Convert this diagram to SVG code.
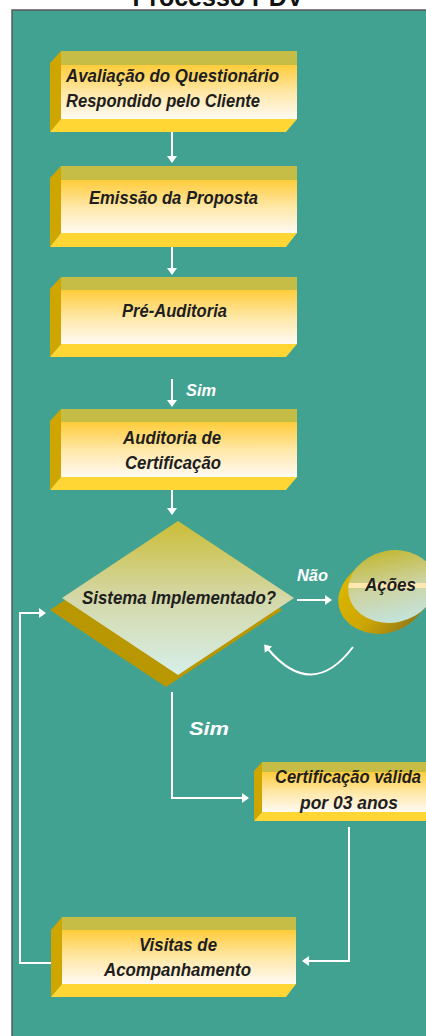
<svg xmlns="http://www.w3.org/2000/svg" width="426" height="1036" viewBox="0 0 426 1036">
<defs>
<style>
.tb{fill:#C5BD45}
.ls{fill:#CFA600}
.bb{fill:#FFD633}
.fc{fill:url(#face)}
.t{font-family:"Liberation Sans",Arial,sans-serif;font-weight:bold;font-style:italic;font-size:18px;fill:#1E1E1E}
.w{font-family:"Liberation Sans",Arial,sans-serif;font-weight:bold;font-style:italic;fill:#FFFFFF}
.c{fill:none;stroke:#FFFFFF;stroke-width:2}
.sd{fill:url(#cylside)}
</style>
<linearGradient id="face" x1="0" y1="0" x2="0" y2="1">
<stop offset="0" stop-color="#FFCC3A"/>
<stop offset="0.5" stop-color="#FFE7A6"/>
<stop offset="1" stop-color="#FFFAF3"/>
</linearGradient>
<linearGradient id="dia" x1="0" y1="0" x2="0" y2="1">
<stop offset="0" stop-color="#CBBD36"/>
<stop offset="0.5" stop-color="#D4D8A8"/>
<stop offset="1" stop-color="#D6EFEA"/>
</linearGradient>
<linearGradient id="cyl" gradientUnits="userSpaceOnUse" x1="0" y1="550" x2="0" y2="623">
<stop offset="0" stop-color="#C2B936"/>
<stop offset="0.5" stop-color="#CDD3A0"/>
<stop offset="1" stop-color="#C3E4DE"/>
</linearGradient>
<linearGradient id="cylside" gradientUnits="userSpaceOnUse" x1="340" y1="570" x2="400" y2="635">
<stop offset="0" stop-color="#DDB800"/>
<stop offset="0.55" stop-color="#CCA504"/>
<stop offset="1" stop-color="#957A18"/>
</linearGradient>
<ellipse id="cy" cx="392" cy="586.5" rx="44" ry="36" transform="rotate(-12 392 586.5)"/>
<clipPath id="cylclip"><use href="#cy"/></clipPath>
<marker id="ah" markerUnits="userSpaceOnUse" markerWidth="7" markerHeight="10" viewBox="0 0 7 10" refX="1" refY="5" orient="auto">
<path d="M0,0 L7,5 L0,10 z" fill="#FFFFFF"/>
</marker>
</defs>

<text x="218" y="6" text-anchor="middle" font-family="Liberation Sans, Arial, sans-serif" font-weight="bold" font-size="25" fill="#111">Processo PDV</text>
<rect x="12" y="10" width="420" height="1030" fill="#42A292" stroke="#5A5A5A" stroke-width="1.5"/>

<g id="connectors">
<path class="c" d="M172,132 V157" marker-end="url(#ah)"/>
<path class="c" d="M172,247 V269" marker-end="url(#ah)"/>
<path class="c" d="M172,379 V401" marker-end="url(#ah)"/>
<path class="c" d="M172,490 V509" marker-end="url(#ah)"/>
<path class="c" d="M172,692 V798 H243" marker-end="url(#ah)"/>
<path class="c" d="M297,600 H326" marker-end="url(#ah)"/>
<path class="c" d="M353,647 Q312,701 268,649" marker-end="url(#ah)"/>
<path class="c" d="M349,827 V961 H308" marker-end="url(#ah)"/>
<path class="c" d="M51,963 H20 V613 H40" marker-end="url(#ah)"/>
<text class="w" x="186" y="396" font-size="17" textLength="30" lengthAdjust="spacingAndGlyphs">Sim</text>
<text class="w" x="297" y="581" font-size="17" textLength="31" lengthAdjust="spacingAndGlyphs">Não</text>
<text class="w" x="189" y="735" font-size="19" textLength="40" lengthAdjust="spacingAndGlyphs">Sim</text>
</g>

<g id="avaliacao">
<rect class="tb" x="61" y="51" width="236" height="14"/>
<polygon class="ls" points="50,63 61,51 61,119 50,132"/>
<rect class="fc" x="61" y="65" width="236" height="54"/>
<polygon class="bb" points="61,119 297,119 286,132 50,132"/>
<text class="t" x="66" y="82" textLength="213" lengthAdjust="spacingAndGlyphs">Avaliação do Questionário</text>
<text class="t" x="66" y="107" textLength="194" lengthAdjust="spacingAndGlyphs">Respondido pelo Cliente</text>
</g>

<g id="emissao">
<rect class="tb" x="61" y="166" width="236" height="14"/>
<polygon class="ls" points="50,178 61,166 61,233 50,247"/>
<rect class="fc" x="61" y="180" width="236" height="53"/>
<polygon class="bb" points="61,233 297,233 286,247 50,247"/>
<text class="t" x="89" y="204" textLength="169" lengthAdjust="spacingAndGlyphs">Emissão da Proposta</text>
</g>

<g id="preauditoria">
<rect class="tb" x="61" y="277" width="236" height="13"/>
<polygon class="ls" points="50,289 61,277 61,344 50,357"/>
<rect class="fc" x="61" y="290" width="236" height="54"/>
<polygon class="bb" points="61,344 297,344 286,357 50,357"/>
<text class="t" x="122" y="317" textLength="105" lengthAdjust="spacingAndGlyphs">Pré-Auditoria</text>
</g>

<g id="auditoria">
<rect class="tb" x="61" y="409" width="236" height="13"/>
<polygon class="ls" points="50,421 61,409 61,477 50,490"/>
<rect class="fc" x="61" y="422" width="236" height="55"/>
<polygon class="bb" points="61,477 297,477 286,490 50,490"/>
<text class="t" x="123" y="444" textLength="98" lengthAdjust="spacingAndGlyphs">Auditoria de</text>
<text class="t" x="125" y="469" textLength="96" lengthAdjust="spacingAndGlyphs">Certificação</text>
</g>

<g id="sistema">
<polygon points="166,533 282,610 166,687 50,610" fill="#B99700"/>
<polygon points="178,521 294,598 178,675 62,598" fill="url(#dia)"/>
<text class="t" x="82" y="604" textLength="194" lengthAdjust="spacingAndGlyphs">Sistema Implementado?</text>
</g>

<g id="acoes">
<use href="#cy" class="sd" transform="translate(-10 11)"/>
<use href="#cy" class="sd" transform="translate(-8 8.8)"/>
<use href="#cy" class="sd" transform="translate(-6 6.6)"/>
<use href="#cy" class="sd" transform="translate(-4 4.4)"/>
<use href="#cy" class="sd" transform="translate(-2 2.2)"/>
<use href="#cy" fill="url(#cyl)"/>
<rect x="340" y="583" width="90" height="5" fill="#FFE7B2" clip-path="url(#cylclip)"/>
<text class="t" x="365" y="591" textLength="51" lengthAdjust="spacingAndGlyphs">Ações</text>
</g>

<g id="certificacao">
<rect class="tb" x="262" y="762" width="180" height="10"/>
<polygon class="ls" points="254,771 262,762 262,812 254,821"/>
<rect class="fc" x="262" y="772" width="180" height="40"/>
<polygon class="bb" points="262,812 442,812 442,821 254,821"/>
<text class="t" x="275" y="783" textLength="146" lengthAdjust="spacingAndGlyphs">Certificação válida</text>
<text class="t" x="300" y="809" textLength="98" lengthAdjust="spacingAndGlyphs">por 03 anos</text>
</g>

<g id="visitas">
<rect class="tb" x="62" y="917" width="234" height="13"/>
<polygon class="ls" points="51,930 62,917 62,984 51,997"/>
<rect class="fc" x="62" y="930" width="234" height="54"/>
<polygon class="bb" points="62,984 296,984 286,997 51,997"/>
<text class="t" x="139" y="951" textLength="78" lengthAdjust="spacingAndGlyphs">Visitas de</text>
<text class="t" x="104" y="976" textLength="147" lengthAdjust="spacingAndGlyphs">Acompanhamento</text>
</g>
</svg>
